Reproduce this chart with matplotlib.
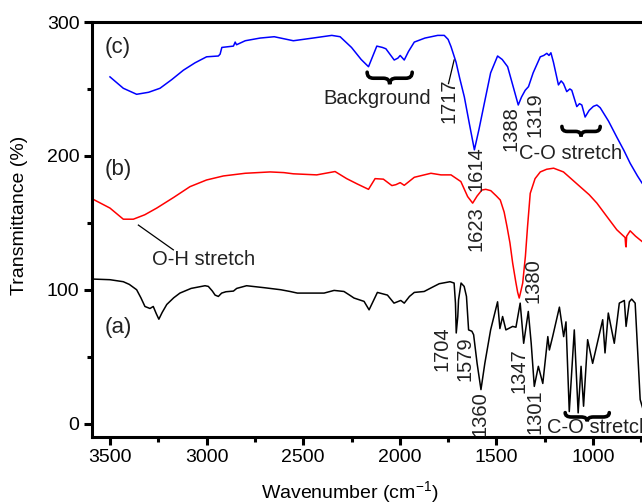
import matplotlib
matplotlib.use("Agg")
import matplotlib.pyplot as plt
from matplotlib.path import Path
from matplotlib.patches import PathPatch
from matplotlib.ticker import MultipleLocator

plt.rcParams['font.family'] = ['Liberation Sans', 'DejaVu Sans']
plt.rcParams['mathtext.fontset'] = 'custom'
plt.rcParams['mathtext.rm'] = 'Liberation Sans'
plt.rcParams['mathtext.it'] = 'Liberation Sans:italic'

# ---------------- data ----------------
wn_c = [3500, 3431, 3362, 3300, 3241, 3180, 3120, 3060, 3000, 2939, 2930, 2921, 2861, 2852, 2845,
        2800, 2723, 2650, 2551, 2450, 2352, 2309, 2250, 2200, 2162, 2119, 2090, 2072, 2029, 2010,
        1998, 1977, 1955, 1925, 1870, 1804, 1770, 1750, 1735, 1709, 1690, 1666, 1640, 1614, 1590,
        1563, 1530, 1494, 1470, 1442, 1410, 1387, 1370, 1351, 1334, 1310, 1273, 1255, 1239, 1228,
        1218, 1205, 1179, 1165, 1153, 1136, 1120, 1110, 1084, 1070, 1058, 1041, 1020, 998, 980,
        963, 920, 877, 840, 808, 770, 746, 720]
t_c = [259, 250.5, 246, 247.5, 250.5, 257, 264, 269.5, 274, 274.6, 276, 281, 282, 285, 283,
       286, 288, 289, 286, 288, 290, 289, 281, 272, 266.6, 282, 281, 280, 271.6, 273,
       275, 271.6, 278, 285, 288, 290, 290, 287, 281.6, 270, 258, 244, 224, 204.5, 220,
       239, 262, 274.6, 272, 266.6, 250, 238, 244, 249, 251.7, 262, 274, 275, 276.6, 275,
       277, 270, 253, 256, 254, 248, 250, 249, 236.8, 239, 238, 229, 234, 237, 238,
       236, 226, 214, 204, 194.5, 185, 179.6, 175]

wn_b = [3593, 3500, 3431, 3379, 3320, 3258, 3170, 3086, 3000, 2913, 2800, 2671, 2600, 2551, 2430,
        2335, 2275, 2220, 2162, 2128, 2085, 2041, 2020, 1998, 1977, 1925, 1839, 1787, 1735, 1684,
        1649, 1623, 1600, 1575, 1555, 1529, 1500, 1480, 1460, 1445, 1430, 1416, 1400, 1390, 1382,
        1375, 1364, 1350, 1339, 1325, 1300, 1273, 1240, 1204, 1153, 1110, 1067, 1020, 980, 930,
        877, 834, 831, 829, 826, 808, 780, 746, 720]
t_b = [168, 161, 152.7, 152.7, 156, 161, 169, 177, 182, 185, 187, 188, 187.5, 186.6, 185.8,
       188.3, 183, 179, 175, 183, 182.6, 177.8, 178.5, 180, 178, 184, 187, 185.8, 185.8, 180.8,
       169.6, 164.7, 170, 174.5, 175, 174, 170, 167, 158, 147, 135, 120, 106, 98, 93.8,
       98, 105, 125, 147, 172, 183, 188, 190, 190.8, 188, 182.5, 177, 171, 164.7, 155,
       144.8, 139, 133, 132, 140, 144, 140, 136, 133]

wn_a = [3593, 3500, 3431, 3400, 3362, 3340, 3319, 3293, 3276, 3260, 3247, 3230, 3206, 3170, 3138,
        3080, 3008, 2991, 2970, 2956, 2939, 2922, 2900, 2861, 2844, 2793, 2700, 2616, 2568, 2530,
        2392, 2340, 2289, 2260, 2237, 2185, 2159, 2116, 2064, 2030, 1995, 1977, 1950, 1925, 1874,
        1830, 1796, 1740, 1719, 1712, 1708, 1700, 1696, 1683, 1667, 1655, 1644, 1627, 1618, 1600,
        1580, 1560, 1530, 1494, 1482, 1468, 1451, 1416, 1399, 1377, 1359, 1335, 1320, 1304, 1283,
        1260, 1234, 1226, 1209, 1174, 1152, 1140, 1123, 1097, 1077, 1062, 1049, 1028, 1002, 950,
        938, 921, 890, 864, 838, 829, 812, 800, 782, 756, 740]
t_a = [108, 107.5, 106, 104, 100, 94, 87.5, 86, 87.5, 82, 78, 83, 89, 94, 97.5,
       101, 103, 102.5, 99, 96, 95, 97.5, 98.5, 99, 101, 103, 101.5, 100, 98.7, 97.5,
       97.5, 99.5, 98.7, 96, 93.8, 91.3, 85, 98, 96, 90, 92, 90, 95, 98, 98.7,
       102, 104.5, 106, 105, 90, 67.7, 80, 92.5, 105, 102.5, 95, 70, 69, 66.4, 45,
       25.4, 45, 70, 91, 71, 80, 70, 72.6, 72, 90, 60, 83.8, 60, 27.8, 42.8,
       30, 65, 55, 65, 87, 65, 76, 9, 70, 8, 42.8, 13, 62.7, 45, 77.6,
       52.8, 82.6, 60, 90, 92, 72.6, 91, 93, 90, 18, 10]

x_ticks = [3500, 3000, 2500, 2000, 1500, 1000]
y_ticks = [0, 100, 200, 300]

# ---------------- figure ----------------
W, H = 642, 504
fig = plt.figure(figsize=(W / 100, H / 100), dpi=100)
ax_left, ax_right, ax_top, ax_bot = 92, 651, 22, 437
ax = fig.add_axes([ax_left / W, (H - ax_bot) / H, (ax_right - ax_left) / W, (ax_bot - ax_top) / H])

lw = 1.1
ax.plot(wn_a, t_a, color='black', lw=lw)
ax.plot(wn_b, t_b, color='#ff0000', lw=lw)
ax.plot(wn_c, t_c, color='#0000ff', lw=lw)

ax.set_xlim(3593, 700)
ax.set_ylim(-10, 300)
ax.set_xticks(x_ticks)
ax.set_yticks(y_ticks)
ax.xaxis.set_minor_locator(MultipleLocator(250))
ax.yaxis.set_minor_locator(MultipleLocator(50))
for s in ax.spines.values():
    s.set_linewidth(2.2)
ax.spines['right'].set_visible(False)
ax.tick_params(which='major', direction='out', length=6, width=2.2, labelsize=14, pad=3)
ax.tick_params(which='minor', direction='out', length=3.5, width=2.2)
ax.tick_params(top=False, right=False, which='both')

fig.text(350 / W, 1 - 492 / H, 'Wavenumber (cm$^{-1}$)', ha='center', va='center', fontsize=14)
fig.text(20 / W, 1 - 215 / H, 'Transmittance (%)', ha='center', va='center', rotation=90, fontsize=14)

tc = '#222222'
fs = 14.5
ax.text(3526, 280.6, '(c)', fontsize=16, color=tc, ha='left', va='center')
ax.text(3526, 189.5, '(b)', fontsize=16, color=tc, ha='left', va='center')
ax.text(3526, 71.6, '(a)', fontsize=16, color=tc, ha='left', va='center')


def brace(x0, x1, ytop, ybot):
    xm = (x0 + x1) / 2
    ym = (ytop + ybot) / 2
    dx = (x1 - x0) * 0.14
    verts = [(x0, ytop), (x0, ym), (x0 + dx, ym),
             (xm - dx, ym),
             (xm, ym), (xm, ybot),
             (xm, ym), (xm + dx, ym),
             (x1 - dx, ym),
             (x1, ym), (x1, ytop)]
    codes = [Path.MOVETO, Path.CURVE3, Path.CURVE3,
             Path.LINETO,
             Path.CURVE3, Path.CURVE3,
             Path.CURVE3, Path.CURVE3,
             Path.LINETO,
             Path.CURVE3, Path.CURVE3]
    ax.add_patch(PathPatch(Path(verts, codes), fill=False, lw=2.6, color='black',
                           capstyle='round', clip_on=False))


brace(2169, 1936, 262.5, 253.5)
ax.text(2117, 242.5, 'Background', fontsize=fs, color=tc, ha='center', va='center')
brace(1161, 963, 222, 214.5)
ax.text(1115, 202, 'C-O stretch', fontsize=fs, color=tc, ha='center', va='center')
brace(1144, 916, 8.2, 1.7)
ax.text(1237, -3, 'C-O stretch', fontsize=fs, color=tc, ha='left', va='center')


def vlabel(x, y, s):
    ax.text(x, y, s, fontsize=fs, color=tc, rotation=90, ha='center', va='center')


vlabel(1744, 241, '1717')
ax.plot([1748, 1719], [254, 271.6], color='black', lw=0.9)
vlabel(1607, 190.3, '1614')
vlabel(1426, 220.5, '1388')
vlabel(1302, 230.6, '1319')
vlabel(1607, 145.5, '1623')
vlabel(1312, 106.7, '1380')
vlabel(1783, 56, '1704')
vlabel(1662, 48.5, '1579')
vlabel(1586, 7.5, '1360')
vlabel(1385, 39.5, '1347')
vlabel(1302, 9, '1301')

ax.text(3016, 122.4, 'O-H stretch', fontsize=fs, color=tc, ha='center', va='center')
ax.plot([3353, 3172], [148.3, 129.8], color='black', lw=0.9)

fig.savefig('out.png', dpi=100)
